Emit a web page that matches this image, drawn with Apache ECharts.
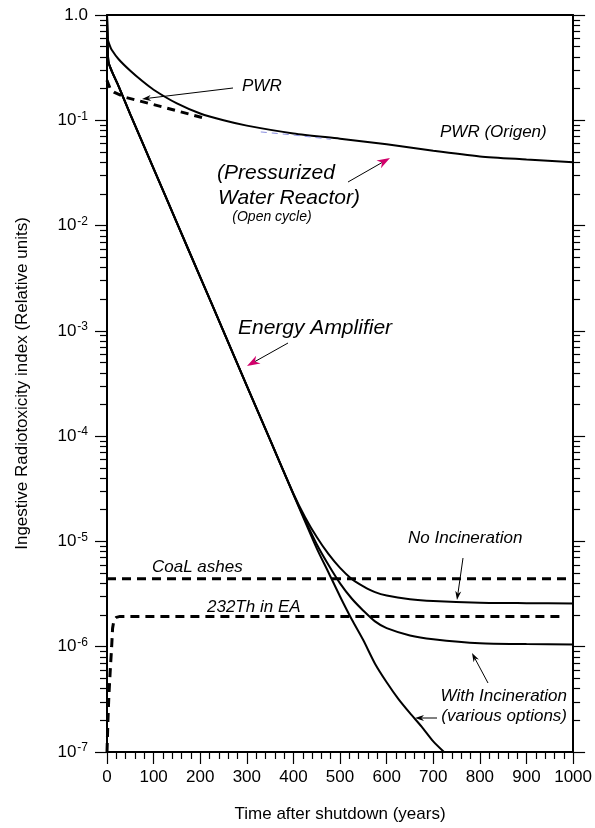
<!DOCTYPE html>
<html>
<head>
<meta charset="utf-8">
<script src="https://cdn.jsdelivr.net/npm/echarts@6.0.0/dist/echarts.min.js"></script>
<style>
  html, body { margin: 0; padding: 0; background: #fff; }
  #chart { width: 595px; height: 828px; }
</style>
</head>
<body>
<div id="chart"></div>
<script>
// years after shutdown / radiotoxicity values
var eaT = [0, 1, 3, 10, 25, 50, 100, 150, 200, 250, 300, 350, 400, 450, 475, 500, 525, 550, 575, 600, 625, 650, 675, 700, 723];
var eaV = [1.0, 0.6, 0.36, 0.295, 0.21, 0.114, 0.0348, 0.0106, 3.24e-3, 9.9e-4, 3.0e-4, 9.2e-5, 2.8e-5, 8.6e-6, 5.1e-6, 3.0e-6, 1.82e-6, 1.15e-6, 6.9e-7, 4.6e-7, 3.2e-7, 2.34e-7, 1.74e-7, 1.26e-7, 1.0e-7];

var noIncT = [0, 1, 3, 10, 25, 50, 100, 150, 200, 250, 300, 350, 400, 425, 450, 475, 500, 525, 550, 575, 600, 650, 700, 800, 900, 1000];
var noIncV = [1.0, 0.6, 0.36, 0.295, 0.21, 0.114, 0.0348, 0.0106, 3.24e-3, 9.9e-4, 3.0e-4, 9.2e-5, 2.85e-5, 1.7e-5, 1.1e-5, 7.6e-6, 5.6e-6, 4.4e-6, 3.75e-6, 3.3e-6, 3.06e-6, 2.83e-6, 2.72e-6, 2.62e-6, 2.59e-6, 2.57e-6];

var withIncT = [0, 1, 3, 10, 25, 50, 100, 150, 200, 250, 300, 350, 400, 425, 450, 475, 500, 525, 550, 575, 600, 650, 700, 800, 900, 1000];
var withIncV = [1.0, 0.6, 0.36, 0.295, 0.21, 0.114, 0.0348, 0.0106, 3.24e-3, 9.9e-4, 3.0e-4, 9.2e-5, 2.8e-5, 1.6e-5, 9.4e-6, 6.0e-6, 4.0e-6, 2.87e-6, 2.2e-6, 1.74e-6, 1.5e-6, 1.28e-6, 1.18e-6, 1.08e-6, 1.06e-6, 1.05e-6];

var pwrT = [0, 2, 6, 10, 25, 50, 75, 100, 150, 200, 250, 300, 400, 500, 600, 700, 800, 900, 1000];
var pwrV = [1.0, 0.58, 0.513, 0.468, 0.380, 0.295, 0.237, 0.195, 0.1445, 0.116, 0.100, 0.089, 0.075, 0.0668, 0.0592, 0.0513, 0.0454, 0.0425, 0.040];

var pwrSimpleT = [0, 2, 8, 17, 42, 100, 150, 205];
var pwrSimpleV = [0.24, 0.225, 0.195, 0.183, 0.164, 0.141, 0.123, 0.106];

var pwrBlueT = [330, 400, 480];
var pwrBlueV = [0.0775, 0.0725, 0.066];

var coalT = [0, 1000];
var coalV = [4.43e-6, 4.43e-6];

var thT = [0, 2, 4, 7, 10, 12, 15, 20, 28, 980];
var thV = [1e-7, 2e-7, 3.4e-7, 6e-7, 1e-6, 1.5e-6, 1.8e-6, 1.9e-6, 1.94e-6, 1.94e-6];

// axis ticks
var yMajor = [1e-7, 1e-6, 1e-5, 1e-4, 1e-3, 1e-2, 1e-1, 1];
var yMinor = [];
for (var e = -7; e < 0; e++) {
    for (var m = 2; m <= 9; m++) {
        yMinor.push(m * Math.pow(10, e));
    }
}

var FONT = '"Liberation Sans", Arial, sans-serif';

function pairs(t, v) {
    var out = [];
    for (var i = 0; i < t.length; i++) out.push([t[i], v[i]]);
    return out;
}

function yLabel(v) {
    if (v >= 0.999) return '{b|1.0}';
    var p = Math.round(Math.log10(v));
    return '{b|10}{s|' + p + '}';
}

// arrow made of a thin line and a filled head, pixel units
function arrow(x1, y1, x2, y2, color, len, w) {
    var a = Math.atan2(y2 - y1, x2 - x1);
    var bx = x2 - len * Math.cos(a), by = y2 - len * Math.sin(a);
    var px = -Math.sin(a) * w / 2, py = Math.cos(a) * w / 2;
    return [
        { type: 'line', shape: { x1: x1, y1: y1, x2: bx + (len * 0.3) * Math.cos(a), y2: by + (len * 0.3) * Math.sin(a) }, style: { stroke: '#000', lineWidth: 1 } },
        { type: 'polygon', shape: { points: [[x2, y2], [bx + px, by + py], [x2 - len * 0.7 * Math.cos(a), y2 - len * 0.7 * Math.sin(a)], [bx - px, by - py]] }, style: { fill: color } }
    ];
}

function label(text, x, y, size, align) {
    return {
        type: 'text', x: x, y: y,
        style: { text: text, font: 'italic ' + size + 'px ' + FONT, fill: '#000', align: align || 'left', verticalAlign: 'middle' }
    };
}

var MAG = '#d1006b';
var graphics = [
    label('PWR', 242, 86, 17),
    label('PWR (Origen)', 440, 132, 17),
    label('(Pressurized', 217, 173, 21),
    label('Water Reactor)', 218, 198, 21),
    label('(Open cycle)', 272, 217, 14, 'center'),
    label('Energy Amplifier', 238, 328, 21),
    label('No Incineration', 408, 538, 17),
    label('CoaL ashes', 152, 567, 17),
    label('232Th in EA', 207, 607, 17),
    label('With Incineration', 567, 696, 17, 'right'),
    label('(various options)', 567, 716, 17, 'right')
];
graphics = graphics
    .concat(arrow(233, 88, 142, 99, '#000', 9, 6))
    .concat(arrow(348, 182, 390, 158, MAG, 13, 9))
    .concat(arrow(288, 343, 247, 366, MAG, 13, 9))
    .concat(arrow(463, 558, 457, 600, '#000', 9, 6))
    .concat(arrow(488, 683, 472, 653, '#000', 9, 6))
    .concat(arrow(437, 718, 415, 718, '#000', 9, 6));

var dom = document.getElementById('chart');
var myChart = echarts.init(dom, null, { renderer: 'canvas' });

var logAxis = function (pos, showLine, ticks, len, labels) {
    return {
        type: 'log', logBase: 10, min: 1e-7, max: 1, position: pos,
        axisLine: { show: showLine, onZero: false, lineStyle: { color: '#000', width: 2 } },
        axisTick: { show: true, inside: false, length: len, customValues: ticks, lineStyle: { color: '#000', width: 1.2 } },
        axisLabel: labels ? {
            show: true, customValues: yMajor, margin: 19, formatter: yLabel,
            rich: {
                b: { fontFamily: FONT, fontSize: 17, color: '#000' },
                s: { fontFamily: FONT, fontSize: 12, color: '#000', verticalAlign: 'top', padding: [0, 0, 8, 1] }
            }
        } : { show: false },
        splitLine: { show: false },
        minorTick: { show: false }
    };
};

var curve = function (name, t, v) {
    return {
        name: name, type: 'line', data: pairs(t, v), showSymbol: false,
        smooth: 0.25,
        lineStyle: { color: '#000', width: 2 }
    };
};

var option = {
    animation: false,
    backgroundColor: '#fff',
    grid: { left: 107, right: 18, top: 15, bottom: 72, containLabel: false },
    xAxis: [
        {
            type: 'value', min: 0, max: 1000, interval: 100, position: 'bottom',
            name: 'Time after shutdown (years)', nameLocation: 'middle', nameGap: 54,
            nameTextStyle: { fontFamily: FONT, fontSize: 17, color: '#000' },
            axisLine: { show: true, onZero: false, lineStyle: { color: '#000', width: 2 } },
            axisTick: { show: true, inside: false, length: 12, lineStyle: { color: '#000', width: 1.2 } },
            minorTick: { show: true, splitNumber: 5, length: 7, lineStyle: { color: '#000', width: 1.2 } },
            axisLabel: { fontFamily: FONT, fontSize: 17, color: '#000', margin: 17, formatter: function (v) { return String(v); } },
            splitLine: { show: false }
        },
        {
            type: 'value', min: 0, max: 1000, position: 'top',
            axisLine: { show: true, onZero: false, lineStyle: { color: '#000', width: 2 } },
            axisTick: { show: false }, axisLabel: { show: false }, splitLine: { show: false }
        }
    ],
    yAxis: [
        Object.assign(logAxis('left', true, yMajor, 12, true), {
            name: 'Ingestive Radiotoxicity index (Relative units)', nameLocation: 'middle', nameGap: 76,
            nameRotate: 90, nameTextStyle: { fontFamily: FONT, fontSize: 17, color: '#000' }
        }),
        logAxis('left', false, yMinor, 7, false),
        logAxis('right', true, yMajor, 12, false),
        logAxis('right', false, yMinor, 7, false)
    ],
    graphic: graphics,
    series: [
        curve('PWR (Origen)', pwrT, pwrV),
        { name: 'PWR', type: 'line', data: pairs(pwrSimpleT, pwrSimpleV), showSymbol: false, lineStyle: { color: '#000', width: 3, type: [8, 6] } },
        { name: 'PWR blue', type: 'line', data: pairs(pwrBlueT, pwrBlueV), showSymbol: false, lineStyle: { color: '#8a8fe0', width: 1, type: [6, 5] } },
        curve('Energy Amplifier', eaT, eaV),
        curve('No Incineration', noIncT, noIncV),
        curve('With Incineration', withIncT, withIncV),
        { name: 'CoaL ashes', type: 'line', data: pairs(coalT, coalV), showSymbol: false, lineStyle: { color: '#000', width: 3, type: [9, 6] } },
        { name: '232Th in EA', type: 'line', data: pairs(thT, thV), showSymbol: false, lineStyle: { color: '#000', width: 3, type: [9, 6] } }
    ]
};
myChart.setOption(option);
</script>
</body>
</html>
